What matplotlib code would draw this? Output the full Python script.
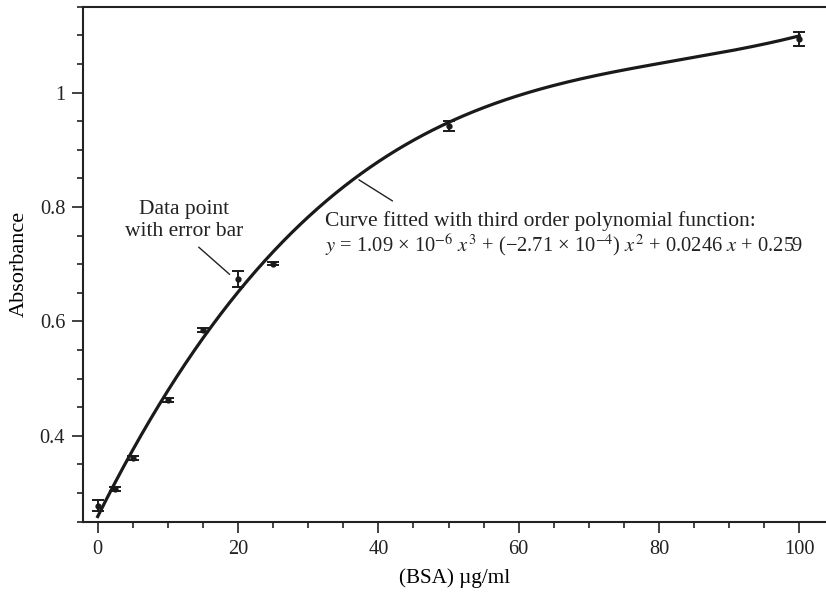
import numpy as np
import matplotlib
matplotlib.use("Agg")
import matplotlib.pyplot as plt
from matplotlib.ticker import MultipleLocator, FixedLocator, FixedFormatter

plt.rcParams['font.family'] = ['Liberation Serif', 'DejaVu Serif']
plt.rcParams['mathtext.fontset'] = 'stix'

# Data
bsa = [0, 2.5, 5, 10, 15, 20, 25, 50, 100]
absorbance = [0.278, 0.307, 0.361, 0.463, 0.585, 0.674, 0.701, 0.942, 1.094]
err = [0.010, 0.003, 0.003, 0.003, 0.003, 0.0145, 0.003, 0.009, 0.0125]
# fitted cubic: y = a3 x^3 + a2 x^2 + a1 x + a0
coeffs = [1.09e-6, -2.71e-4, 0.0246, 0.259]
fit_range = [0, 100]

yticks = [0.4, 0.6, 0.8, 1.0]
ytick_labels = ['0.4', '0.6', '0.8', '1']
xticks = [0, 20, 40, 60, 80, 100]
xtick_labels = ['0', '20', '40', '60', '80', '100']

fig = plt.figure(figsize=(8.26, 5.92), dpi=100)
ax = fig.add_axes([83.3/826, 1-521.7/592, 1-83.3/826, (521.7-6.7)/592])

xs = np.linspace(fit_range[0], fit_range[1], 400)
ax.plot(xs, np.polyval(coeffs, xs), color='#1a1a1a', lw=2.3, zorder=2)
ax.errorbar(bsa, absorbance, yerr=err, fmt='o', color='#1a1a1a', ms=3.5,
            capsize=4, capthick=1.4, elinewidth=1.4, zorder=3)

ax.set_xlim(-2.05, 103.8)
ax.set_ylim(0.25, 1.15)
ax.xaxis.set_major_locator(FixedLocator(xticks))
ax.xaxis.set_major_formatter(FixedFormatter(xtick_labels))
ax.xaxis.set_minor_locator(MultipleLocator(5))
ax.yaxis.set_major_locator(FixedLocator(yticks))
ax.yaxis.set_major_formatter(FixedFormatter(ytick_labels))
ax.yaxis.set_minor_locator(MultipleLocator(0.05))

for s in ['left', 'top', 'bottom']:
    ax.spines[s].set_linewidth(1.5)
    ax.spines[s].set_color('#222222')
ax.spines['right'].set_visible(False)
ax.tick_params(which='major', direction='out', length=8, width=1.2,
               labelsize=14.7, colors='#222222', pad=5)
ax.tick_params(which='minor', direction='out', length=4.2, width=1.2, colors='#222222')
ax.tick_params(top=False, right=False, which='both')

ax.set_xlabel('(BSA) µg/ml', fontsize=15.2, labelpad=7)
ax.set_ylabel('Absorbance', fontsize=16, labelpad=8)

# annotations
ax.annotate('', xy=(19.1, 0.679), xytext=(14.1, 0.733),
            arrowprops=dict(arrowstyle='-', color='#222222', lw=1.0))
ax.text(12.3, 0.776, 'Data point\nwith error bar', ha='center', va='center',
        fontsize=15.5, linespacing=1.2, color='#222222')

ax.annotate('', xy=(36.9, 0.850), xytext=(42.35, 0.808),
            arrowprops=dict(arrowstyle='-', color='#222222', lw=1.0))
ax.text(32.4, 0.776, 'Curve fitted with third order polynomial function:',
        ha='left', va='center', fontsize=15.5, color='#222222')
ax.text(32.4, 0.734,
        r'$y$ = 1.09 × 10$^{−6}$ $x^3$ + (−2.71 × 10$^{−4}$) $x^2$ + 0.0246 $x$ + 0.259',
        ha='left', va='center', fontsize=14.8, color='#222222')

fig.savefig('out.png', dpi=100)
